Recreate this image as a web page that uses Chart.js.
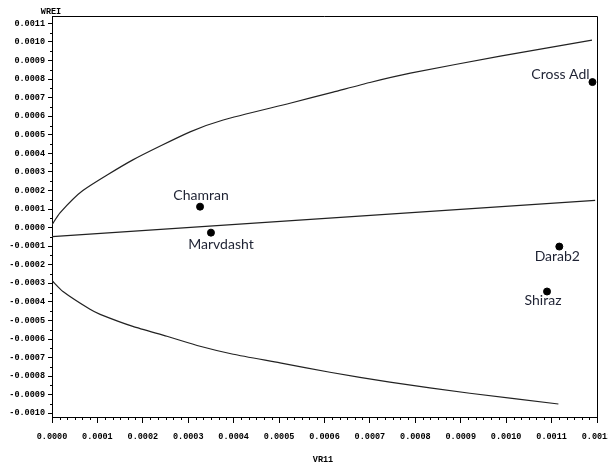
<!DOCTYPE html>
<html>
<head>
<meta charset="utf-8">
<script src="https://cdn.jsdelivr.net/npm/chart.js@4/dist/chart.umd.min.js"></script>
<style>
  html, body { margin: 0; padding: 0; background: #fff; }
  #wrap { width: 608px; height: 464px; }
</style>
</head>
<body>
<div id="wrap"><canvas id="chart"></canvas></div>
<script>
// upper control limit curve
const upperX = [0, 0.0000176, 0.000068, 0.000178, 0.000304, 0.000377, 0.000524, 0.000619, 0.0007, 0.000789, 0.000987, 0.001189];
const upperY = [0.000016, 0.00008, 0.0002, 0.000365, 0.000516, 0.00058, 0.00067, 0.00073, 0.000782, 0.000832, 0.000924, 0.00101];
// centre line
const centerX = [0, 0.001196];
const centerY = [-0.000048, 0.000147];
// lower control limit curve
const lowerX = [0, 0.0000242, 0.0000837, 0.000106, 0.000178, 0.000253, 0.000326, 0.000399, 0.000502, 0.000612, 0.000744, 0.00092, 0.001115];
const lowerY = [-0.000285, -0.000344, -0.00044, -0.000467, -0.000532, -0.000585, -0.000639, -0.000682, -0.000728, -0.000779, -0.000832, -0.000892, -0.00095];
// sites
const siteNames = ['Chamran', 'Marvdasht', 'Cross Adl', 'Darab2', 'Shiraz'];
const siteX = [0.000326, 0.00035, 0.00119, 0.001117, 0.00109];
const siteY = [0.000113, -0.000027, 0.000784, -0.000102, -0.000344];

const xTitle = 'VR11';
const yTitle = 'WREI';

function pts(xs, ys) { return xs.map((x, i) => ({x: x, y: ys[i]})); }

// label offsets from each dot (px), same order as siteNames
const labelOffsets = [[1, -11], [10, 12], [-32, -8], [-2, 10], [-4, 9]];

const tickFont = {family: '"Liberation Mono", "DejaVu Sans Mono", monospace', size: 8.5, weight: 'bold'};

const extras = {
  id: 'extras',
  afterDraw(chart) {
    const c = chart.ctx, a = chart.chartArea;
    const xs = chart.scales.x, ys = chart.scales.y;
    c.save();
    // frame top and right
    c.strokeStyle = '#000';
    c.lineWidth = 1;
    c.beginPath();
    c.moveTo(a.left, a.top + 0.5);
    c.lineTo(a.right + 0.5, a.top + 0.5);
    c.lineTo(a.right + 0.5, a.bottom);
    c.stroke();
    // minor ticks x (5 between majors)
    c.beginPath();
    for (let i = 0; i <= 72; i++) {
      if (i % 6 === 0) continue;
      const px = Math.round(xs.getPixelForValue(i * 0.0001 / 6)) + 0.5;
      c.moveTo(px, a.bottom);
      c.lineTo(px, a.bottom + 3);
    }
    // minor ticks y (1 between majors)
    for (let i = -10; i <= 11; i++) {
      const v = (i + 0.5) * 0.0001;
      if (v < ys.min || v > ys.max) continue;
      const py = Math.round(ys.getPixelForValue(v)) + 0.5;
      c.moveTo(a.left, py);
      c.lineTo(a.left - 2, py);
    }
    c.stroke();
    // axis titles
    c.fillStyle = '#000';
    c.font = 'bold 8.5px "Liberation Mono", "DejaVu Sans Mono", monospace';
    c.textAlign = 'center';
    c.textBaseline = 'middle';
    c.fillText(yTitle, 51, 12);
    c.fillText(xTitle, 323, 460);
    // site labels
    const meta = chart.getDatasetMeta(3);
    c.font = '14px Lato, "Open Sans", sans-serif';
    c.fillStyle = '#1e2233';
    meta.data.forEach((p, i) => {
      const o = labelOffsets[i];
      c.fillText(siteNames[i], p.x + o[0], p.y + o[1]);
    });
    c.restore();
  }
};

new Chart(document.getElementById('chart'), {
  type: 'scatter',
  data: {
    datasets: [
      {data: pts(upperX, upperY), showLine: true, borderColor: '#222', borderWidth: 1.2, pointRadius: 0, tension: 0.2},
      {data: pts(centerX, centerY), showLine: true, borderColor: '#222', borderWidth: 1.2, pointRadius: 0},
      {data: pts(lowerX, lowerY), showLine: true, borderColor: '#222', borderWidth: 1.2, pointRadius: 0, tension: 0.2},
      {data: pts(siteX, siteY), showLine: false, backgroundColor: '#000', borderColor: '#000', pointRadius: 3.5}
    ]
  },
  options: {
    responsive: true,
    maintainAspectRatio: false,
    animation: false,
    layout: {padding: {top: 16, right: 11, left: 0, bottom: 0}},
    plugins: {legend: {display: false}, tooltip: {enabled: false}},
    scales: {
      x: {
        type: 'linear',
        min: 0,
        max: 0.0012,
        grid: {drawOnChartArea: false, drawTicks: true, tickLength: 6, color: '#000'},
        border: {display: true, color: '#000', width: 1},
        ticks: {
          stepSize: 0.0001,
          autoSkip: false,
          maxRotation: 0,
          padding: 9,
          color: '#000',
          font: tickFont,
          callback: v => v.toFixed(4)
        },
        afterFit(s) { s.height = 47; s.paddingLeft = 0; s.paddingRight = 0; }
      },
      y: {
        type: 'linear',
        min: -0.00102,
        max: 0.00114,
        grid: {drawOnChartArea: false, drawTicks: true, tickLength: 4, color: '#000'},
        border: {display: true, color: '#000', width: 1},
        ticks: {
          stepSize: 0.0001,
          includeBounds: false,
          autoSkip: false,
          padding: 3,
          color: '#000',
          font: tickFont,
          callback: v => (Math.abs(v) < 1e-9 ? 0 : v).toFixed(4)
        },
        afterFit(s) { s.width = 52; s.paddingTop = 0; s.paddingBottom = 0; }
      }
    }
  },
  plugins: [extras]
});
</script>
</body>
</html>
